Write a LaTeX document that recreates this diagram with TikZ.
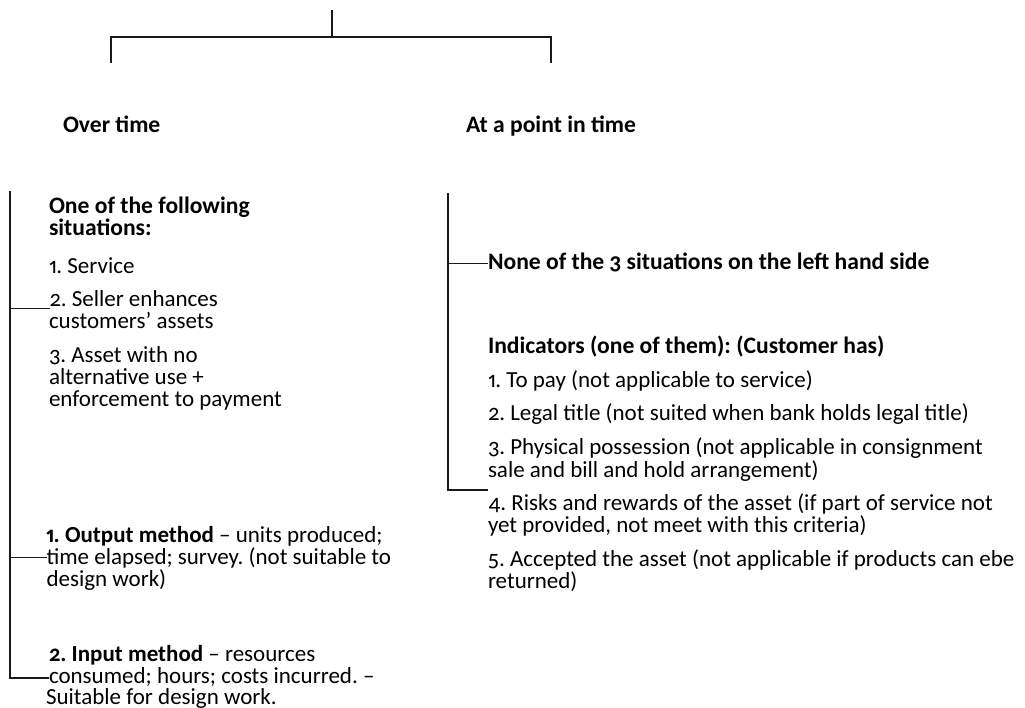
\documentclass[tikz,border=0pt]{standalone}
\usepackage{fontspec}
\setmainfont{Carlito}[Numbers={OldStyle,Proportional}]
\begin{document}
\frenchspacing
\begin{tikzpicture}[x=1pt,y=-1pt,
  line/.style={line width=1.2pt,draw=black!90},
  txt/.style={anchor=base west,inner sep=0pt,outer sep=0pt,font=\fontsize{23}{25}\selectfont},
  head/.style={txt,font=\fontsize{23.6}{25}\selectfont\bfseries}]
\fill[white] (0,0) rectangle (1025,708);
\useasboundingbox (0,0) rectangle (1025,708);

% top fork
\coordinate (root) at (332,10);
\coordinate (fork) at (332,37);
\coordinate (forkL) at (111,37);
\coordinate (forkR) at (551,37);
\coordinate (dropL) at (111,63);
\coordinate (dropR) at (551,63);
\draw[line] (root) -- (fork);
\draw[line] (dropL) -- (forkL) -- (forkR) -- (dropR);

\node[head] (over) at (63,133) {Over time};
\node[head] (point) at (466,133) {At a point in time};

% left column
\node[head] (L1) at (49,214) {One of the following};
\node[head] (L2) at (49,236) {situations:};
\node[txt] (L3) at (49,274) {1. Service};
\node[txt] (L4) at (49.5,306.5) {2. Seller enhances};
\node[txt] (L5) at (49,328.5) {customers’ assets};
\node[txt] (L6) at (49,362.5) {3. Asset with no};
\node[txt] (L7) at (49,384.5) {alternative use +};
\node[txt] (L8) at (49,406.5) {enforcement to payment};
\node[txt] (L9) at (46,542) {\textbf{1. Output method} – units produced;};
\node[txt] (L10) at (46.5,564) {time elapsed; survey. (not suitable to};
\node[txt] (L11) at (46.5,586) {design work)};
\node[txt] (L12) at (49,661) {\textbf{2. Input method} – resources};
\node[txt] (L13) at (49,683) {consumed; hours; costs incurred. –};
\node[txt] (L14) at (46,704) {Suitable for design work.};

\coordinate (lbTop) at (10,191);
\coordinate (lbBot) at (10,678);
\coordinate (lt1) at (10,308.5);
\coordinate (lt2) at (10,557.5);
\draw[line] (lbTop) -- (lbBot) -- (lbBot -| L13.west);
\draw[line] (lt1) -- (lt1 -| L4.west);
\draw[line] (lt2) -- (lt2 -| L10.west);

% right column
\node[head] (R1) at (488,270) {None of the 3 situations on the left hand side};
\node[head] (R2) at (488,353.5) {Indicators (one of them): (Customer has)};
\node[txt] (R3) at (488,387.5) {1. To pay (not applicable to service)};
\node[txt] (R4) at (488,420.5) {2. Legal title (not suited when bank holds legal title)};
\node[txt] (R5) at (488,454) {3. Physical possession (not applicable in consignment};
\node[txt] (R6) at (488,477) {sale and bill and hold arrangement)};
\node[txt] (R7) at (488,510.5) {4. Risks and rewards of the asset (if part of service not};
\node[txt] (R8) at (488,532.5) {yet provided, not meet with this criteria)};
\node[txt] (R9) at (488,566) {5. Accepted the asset (not applicable if products can ebe};
\node[txt] (R10) at (488,588) {returned)};

\coordinate (rbTop) at (448,193);
\coordinate (rbBot) at (448,490);
\coordinate (rt1) at (448,263.5);
\draw[line] (rbTop) -- (rbBot) -- (rbBot -| R6.west);
\draw[line] (rt1) -- (rt1 -| R1.west);
\end{tikzpicture}
\end{document}
